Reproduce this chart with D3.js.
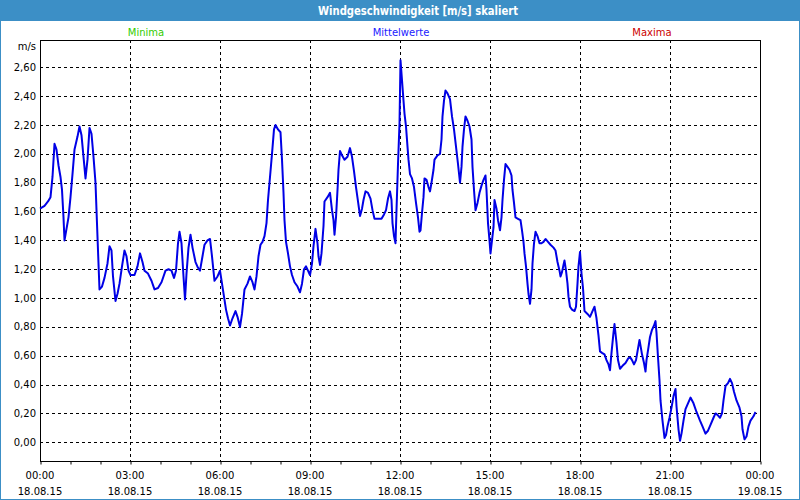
<!DOCTYPE html>
<html>
<head>
<meta charset="utf-8">
<script src="https://cdn.jsdelivr.net/npm/d3@7"></script>
<style>
  html, body { margin: 0; padding: 0; background: #ffffff; }
  svg { display: block; }
  text { font-family: "DejaVu Sans", Verdana, sans-serif; }
</style>
</head>
<body>
<svg id="chart" width="800" height="500"></svg>
<script>
// ---- data ----
const title = "Windgeschwindigkeit [m/s] skaliert";
const legendLabels = ["Minima", "Mittelwerte", "Maxima"];
const unitLabel = "m/s";
// minutes since 18.08.15 00:00
const minutes = [
  0, 9, 16, 21, 25, 29, 33, 37, 41, 44, 47, 49, 53, 57, 61, 65, 69, 75, 79, 83, 87, 91, 95, 99, 103, 107, 111, 113, 116, 119,
  124, 129, 135, 139, 143, 146, 151, 155, 159, 164, 169, 173, 177, 181, 189, 195, 200, 205, 209, 216, 223, 229, 236, 243, 251, 257, 263, 268, 272, 276,
  279, 283, 287, 290, 293, 297, 301, 305, 311, 316, 320, 325, 329, 335, 340, 344, 349, 355, 360, 364, 368, 372, 376, 380, 385, 391, 395, 400, 404, 409,
  415, 420, 425, 429, 433, 437, 441, 445, 449, 453, 456, 460, 464, 468, 471, 476, 481, 484, 487, 489, 492, 496, 500, 504, 509, 515, 520, 524, 528, 532,
  536, 540, 544, 547, 551, 555, 557, 560, 563, 567, 569, 575, 580, 584, 587, 589, 592, 595, 597, 600, 604, 609, 615, 620, 624, 628, 632, 636, 640, 644,
  647, 651, 656, 661, 665, 669, 676, 683, 688, 692, 696, 700, 703, 705, 708, 711, 713, 716, 719, 721, 724, 727, 729, 732, 735, 737, 740, 744, 748, 752,
  756, 759, 761, 764, 767, 769, 773, 777, 780, 783, 787, 789, 795, 800, 803, 805, 808, 811, 815, 820, 824, 828, 832, 836, 840, 843, 845, 848, 851, 855,
  859, 863, 865, 868, 871, 875, 879, 883, 887, 891, 893, 896, 899, 901, 904, 907, 909, 913, 916, 920, 923, 925, 928, 931, 935, 939, 943, 945, 948, 951,
  956, 961, 964, 967, 969, 972, 975, 977, 980, 983, 985, 988, 991, 995, 999, 1003, 1007, 1011, 1016, 1021, 1027, 1031, 1035, 1039, 1041, 1044, 1047, 1049, 1052, 1055,
  1057, 1060, 1064, 1069, 1072, 1075, 1077, 1080, 1083, 1086, 1089, 1095, 1100, 1105, 1109, 1113, 1117, 1120, 1124, 1129, 1133, 1137, 1140, 1143, 1147, 1149, 1153, 1156, 1160, 1165,
  1171, 1176, 1180, 1184, 1188, 1192, 1195, 1199, 1201, 1204, 1208, 1211, 1213, 1217, 1220, 1224, 1228, 1231, 1233, 1236, 1239, 1241, 1245, 1249, 1252, 1255, 1259, 1263, 1267, 1271,
  1273, 1277, 1280, 1283, 1287, 1291, 1296, 1301, 1307, 1313, 1320, 1325, 1331, 1336, 1341, 1347, 1351, 1355, 1360, 1364, 1367, 1371, 1376, 1380, 1384, 1388, 1393, 1399, 1403, 1405,
  1409, 1413, 1417, 1421, 1427, 1431
];
const speeds = [
  1.62, 1.64, 1.67, 1.70, 1.84, 2.07, 2.03, 1.92, 1.84, 1.75, 1.56, 1.40, 1.48, 1.56, 1.70, 1.86, 2.03, 2.12, 2.19, 2.13, 1.98, 1.83, 1.96, 2.18, 2.14, 1.98, 1.80, 1.61, 1.33, 1.06,
  1.08, 1.14, 1.24, 1.36, 1.33, 1.15, 0.98, 1.03, 1.10, 1.22, 1.33, 1.29, 1.19, 1.16, 1.16, 1.22, 1.31, 1.25, 1.19, 1.17, 1.12, 1.06, 1.07, 1.11, 1.19, 1.20, 1.19, 1.14, 1.19, 1.38,
  1.46, 1.38, 1.15, 0.99, 1.17, 1.35, 1.44, 1.35, 1.25, 1.21, 1.19, 1.29, 1.37, 1.40, 1.41, 1.29, 1.12, 1.15, 1.19, 1.10, 1.01, 0.92, 0.86, 0.81, 0.86, 0.91, 0.87, 0.80, 0.89, 1.06,
  1.10, 1.15, 1.11, 1.06, 1.15, 1.29, 1.37, 1.39, 1.43, 1.52, 1.68, 1.84, 2.00, 2.17, 2.20, 2.17, 2.15, 1.96, 1.73, 1.54, 1.39, 1.31, 1.22, 1.16, 1.11, 1.08, 1.04, 1.10, 1.20, 1.22,
  1.19, 1.16, 1.24, 1.36, 1.48, 1.38, 1.29, 1.23, 1.31, 1.50, 1.67, 1.70, 1.73, 1.61, 1.54, 1.44, 1.56, 1.75, 1.89, 2.02, 1.99, 1.96, 1.98, 2.04, 1.98, 1.88, 1.77, 1.67, 1.57, 1.62,
  1.68, 1.74, 1.73, 1.69, 1.61, 1.55, 1.55, 1.55, 1.58, 1.61, 1.69, 1.74, 1.68, 1.52, 1.43, 1.38, 1.61, 1.93, 2.21, 2.65, 2.51, 2.37, 2.28, 2.19, 2.05, 1.96, 1.86, 1.83, 1.77, 1.66,
  1.56, 1.46, 1.47, 1.59, 1.70, 1.83, 1.82, 1.77, 1.74, 1.80, 1.89, 1.96, 1.99, 2.00, 2.10, 2.26, 2.37, 2.44, 2.42, 2.38, 2.26, 2.17, 2.05, 1.93, 1.80, 1.91, 2.05, 2.17, 2.26, 2.23,
  2.19, 2.10, 1.91, 1.75, 1.61, 1.66, 1.73, 1.78, 1.82, 1.85, 1.75, 1.52, 1.40, 1.31, 1.40, 1.49, 1.68, 1.62, 1.54, 1.47, 1.56, 1.68, 1.82, 1.93, 1.91, 1.89, 1.85, 1.75, 1.66, 1.56,
  1.55, 1.54, 1.47, 1.39, 1.31, 1.22, 1.10, 1.03, 0.96, 1.06, 1.24, 1.38, 1.46, 1.43, 1.38, 1.38, 1.39, 1.41, 1.39, 1.37, 1.35, 1.33, 1.25, 1.19, 1.15, 1.18, 1.23, 1.26, 1.19, 1.10,
  1.01, 0.94, 0.92, 0.91, 0.94, 1.10, 1.22, 1.32, 1.17, 1.07, 0.91, 0.89, 0.87, 0.91, 0.94, 0.86, 0.74, 0.63, 0.62, 0.61, 0.57, 0.54, 0.50, 0.62, 0.76, 0.82, 0.69, 0.57, 0.51, 0.53,
  0.55, 0.58, 0.59, 0.57, 0.54, 0.57, 0.63, 0.71, 0.67, 0.61, 0.55, 0.49, 0.57, 0.66, 0.73, 0.78, 0.81, 0.84, 0.76, 0.59, 0.43, 0.29, 0.15, 0.03, 0.05, 0.11, 0.17, 0.24, 0.32, 0.37,
  0.25, 0.09, 0.01, 0.06, 0.15, 0.23, 0.27, 0.31, 0.27, 0.21, 0.15, 0.11, 0.06, 0.08, 0.12, 0.17, 0.20, 0.19, 0.17, 0.20, 0.29, 0.39, 0.41, 0.44, 0.41, 0.35, 0.29, 0.24, 0.18, 0.09,
  0.02, 0.04, 0.11, 0.15, 0.18, 0.21
];
const yTicks = [0, 0.2, 0.4, 0.6, 0.8, 1.0, 1.2, 1.4, 1.6, 1.8, 2.0, 2.2, 2.4, 2.6];
const xTickTimes = ["00:00", "03:00", "06:00", "09:00", "12:00", "15:00", "18:00", "21:00", "00:00"];
const xTickDates = ["18.08.15", "18.08.15", "18.08.15", "18.08.15", "18.08.15", "18.08.15", "18.08.15", "18.08.15", "19.08.15"];

// ---- layout ----
const W = 800, H = 500;
const L = 40, R = 760, T = 40, B = 461;
const svg = d3.select("#chart");

// window frame + title bar
svg.append("rect").attr("x", 0.5).attr("y", 0.5).attr("width", W - 1).attr("height", H - 1)
  .attr("fill", "#ffffff").attr("stroke", "#3c8fc6").attr("stroke-width", 1);
svg.append("rect").attr("x", 0).attr("y", 0).attr("width", W).attr("height", 21).attr("fill", "#3c8fc6");
svg.append("text").attr("x", 418).attr("y", 15).attr("text-anchor", "middle")
  .attr("fill", "#ffffff").attr("font-size", "12px").attr("font-weight", "bold")
  .attr("textLength", 200).attr("lengthAdjust", "spacingAndGlyphs").text(title);

const legendX = [146, 401, 652];
const legendColors = ["#33cc00", "#2020ff", "#cc0000"];
legendLabels.forEach((t, i) => {
  svg.append("text").attr("x", legendX[i]).attr("y", 36).attr("text-anchor", "middle")
    .attr("fill", legendColors[i]).attr("font-size", "10px").text(t);
});

const x = d3.scaleLinear().domain([0, 1440]).range([L, R]);
const y = d3.scaleLinear().domain([-0.13, 2.79]).range([B, T]);

// horizontal grid
svg.append("g").selectAll("line").data(yTicks).join("line")
  .attr("x1", L).attr("x2", R)
  .attr("y1", d => Math.round(y(d)) + 0.5).attr("y2", d => Math.round(y(d)) + 0.5)
  .attr("stroke", "#000").attr("stroke-width", 1).attr("stroke-dasharray", "3,3");
// vertical grid
const vGrid = d3.range(180, 1440, 180);
svg.append("g").selectAll("line").data(vGrid).join("line")
  .attr("x1", d => Math.round(x(d)) + 0.5).attr("x2", d => Math.round(x(d)) + 0.5)
  .attr("y1", T).attr("y2", B)
  .attr("stroke", "#000").attr("stroke-width", 1).attr("stroke-dasharray", "3,3");

// y labels
svg.append("g").selectAll("text").data(yTicks).join("text")
  .attr("x", 36).attr("y", d => y(d)).attr("dy", "0.35em").attr("text-anchor", "end")
  .attr("font-size", "10px").attr("fill", "#000")
  .text(d => d3.format(".2f")(d).replace(".", ","));
svg.append("text").attr("x", 36).attr("y", 50).attr("text-anchor", "end")
  .attr("font-size", "10px").attr("fill", "#000").text(unitLabel);

// x axis with hourly ticks
const xAxis = d3.axisBottom(x).tickValues(d3.range(0, 1441, 60)).tickSize(3).tickFormat("");
const gx = svg.append("g").attr("transform", `translate(0.5,${B + 0.5})`).call(xAxis);
gx.select(".domain").remove();
gx.selectAll(".tick line").attr("stroke", "#000");

const majors = d3.range(0, 1441, 180);
const lab = svg.append("g");
majors.forEach((m, i) => {
  lab.append("text").attr("x", x(m)).attr("y", 479).attr("text-anchor", "middle")
    .attr("font-size", "10px").attr("fill", "#000").text(xTickTimes[i]);
  lab.append("text").attr("x", x(m)).attr("y", 495).attr("text-anchor", "middle")
    .attr("font-size", "10px").attr("fill", "#000").text(xTickDates[i]);
});

// plot frame
svg.append("rect").attr("x", L + 0.5).attr("y", T + 0.5).attr("width", R - L).attr("height", B - T)
  .attr("fill", "none").attr("stroke", "#000").attr("stroke-width", 1);

// data line
const data = minutes.map((m, i) => ({ m, v: speeds[i] }));
const line = d3.line().x(d => x(d.m)).y(d => y(d.v));
svg.append("path").datum(data).attr("d", line)
  .attr("fill", "none").attr("stroke", "#0000e6").attr("stroke-width", 2)
  .attr("stroke-linejoin", "round");
</script>
</body>
</html>
